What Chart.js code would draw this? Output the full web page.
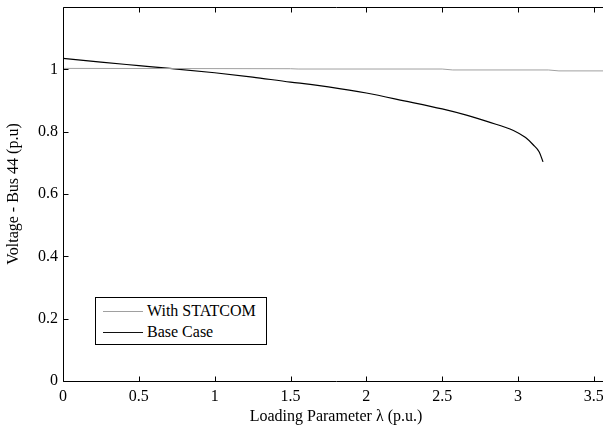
<!DOCTYPE html>
<html>
<head>
<meta charset="utf-8">
<script src="https://cdn.jsdelivr.net/npm/chart.js@4.4.0/dist/chart.umd.min.js"></script>
<style>
  html, body { margin: 0; padding: 0; background: #fff; overflow: hidden; width: 603px; height: 428px; }
  #wrap { position: relative; width: 612px; height: 428px; }
  canvas { position: absolute; left: 0; top: 0; }
  #legend { position: absolute; left: 95px; top: 297px; width: 172px; height: 48px; border: 1px solid #000; background: #fff; font-family: 'Liberation Serif', 'Times New Roman', serif; font-size: 16px; color: #000; box-sizing: border-box; }
  .item { position: absolute; left: 0; height: 20px; line-height: 20px; white-space: nowrap; }
  .sample { position: absolute; left: 7px; width: 40px; top: 10px; height: 0; }
  .lbl { position: absolute; left: 51px; top: 0; }
</style>
</head>
<body>
<div id="wrap">
  <canvas id="c" width="612" height="428"></canvas>
  <div id="legend">
    <div class="item" style="top:3px"><div class="sample" style="border-top:1px solid #a0a0a0"></div><span class="lbl">With STATCOM</span></div>
    <div class="item" style="top:24px"><div class="sample" style="border-top:1px solid #111"></div><span class="lbl">Base Case</span></div>
  </div>
</div>
<script>
// Data
const statcomX = [0, 1.5, 1.55, 2.5, 2.57, 3.2, 3.27, 3.6];
const statcomY = [1.003, 1.002, 1.001, 1.001, 0.998, 0.998, 0.995, 0.995];

const baseX = [0, 0.25, 0.5, 0.705, 1.0, 1.25, 1.5, 1.63, 1.75, 2.0, 2.25, 2.5, 2.66, 2.8, 2.97, 3.05, 3.1, 3.14, 3.165];
const baseY = [1.035, 1.023, 1.012, 1.003, 0.989, 0.975, 0.959, 0.952, 0.944, 0.924, 0.899, 0.873, 0.853, 0.832, 0.804, 0.781, 0.758, 0.735, 0.703];

const xTicks = [0, 0.5, 1, 1.5, 2, 2.5, 3, 3.5];
const yTicks = [0, 0.2, 0.4, 0.6, 0.8, 1];

const serif = "'Liberation Serif', 'Times New Roman', serif";

function pts(xs, ys) { return xs.map((x, i) => ({ x: x, y: ys[i] })); }

const boxPlugin = {
  id: 'matlabBox',
  afterDraw(chart) {
    const ctx = chart.ctx;
    const a = chart.chartArea;
    const xs = chart.scales.x, ys = chart.scales.y;
    ctx.save();
    ctx.strokeStyle = '#000';
    ctx.lineWidth = 1;
    const L = Math.round(a.left) + 0.5, R = Math.round(a.right) + 0.5;
    const T = Math.round(a.top) + 0.5, B = Math.round(a.bottom) + 0.5;
    ctx.beginPath();
    ctx.rect(L, T, R - L, B - T);
    ctx.stroke();
    const len = 5;
    ctx.beginPath();
    xTicks.forEach(v => {
      const px = Math.round(xs.getPixelForValue(v)) + 0.5;
      ctx.moveTo(px, B); ctx.lineTo(px, B - len);
      ctx.moveTo(px, T); ctx.lineTo(px, T + len);
    });
    yTicks.forEach(v => {
      const py = Math.round(ys.getPixelForValue(v)) + 0.5;
      ctx.moveTo(L, py); ctx.lineTo(L + len, py);
      ctx.moveTo(R, py); ctx.lineTo(R - len, py);
    });
    ctx.stroke();
    ctx.restore();
  }
};

new Chart(document.getElementById('c'), {
  type: 'scatter',
  data: {
    datasets: [
      { label: 'With STATCOM', data: pts(statcomX, statcomY), showLine: true, borderColor: '#a0a0a0', borderWidth: 1, pointRadius: 0, tension: 0, fill: false },
      { label: 'Base Case', data: pts(baseX, baseY), showLine: true, borderColor: '#000', borderWidth: 1.2, pointRadius: 0, tension: 0.3, cubicInterpolationMode: 'monotone', fill: false }
    ]
  },
  options: {
    responsive: false,
    animation: false,
    layout: { padding: { left: 0, top: 7, right: 3, bottom: 0 } },
    plugins: { legend: { display: false }, tooltip: { enabled: false } },
    scales: {
      x: {
        type: 'linear', min: 0, max: 3.6,
        afterBuildTicks: s => { s.ticks = xTicks.map(v => ({ value: v })); },
        afterFit: s => { s.height = 47; s.paddingLeft = 0; s.paddingRight = 0; },
        grid: { display: false, drawTicks: false },
        border: { display: false },
        ticks: { color: '#000', padding: 6, maxRotation: 0, autoSkip: false, font: { family: serif, size: 16 }, callback: v => String(v) },
        title: { display: true, text: 'Loading Parameter λ (p.u.)', color: '#000', font: { family: serif, size: 16 }, padding: { top: 4, bottom: 2 } }
      },
      y: {
        type: 'linear', min: 0, max: 1.2,
        afterBuildTicks: s => { s.ticks = yTicks.map(v => ({ value: v })); },
        afterFit: s => { s.width = 63; s.paddingTop = 0; s.paddingBottom = 0; },
        grid: { display: false, drawTicks: false },
        border: { display: false },
        ticks: { color: '#000', padding: 5, autoSkip: false, font: { family: serif, size: 16 }, callback: v => String(v) },
        title: { display: true, text: 'Voltage - Bus 44 (p.u)', color: '#000', font: { family: serif, size: 16 }, padding: { top: 4, bottom: 2 } }
      }
    }
  },
  plugins: [boxPlugin]
});
</script>
</body>
</html>
